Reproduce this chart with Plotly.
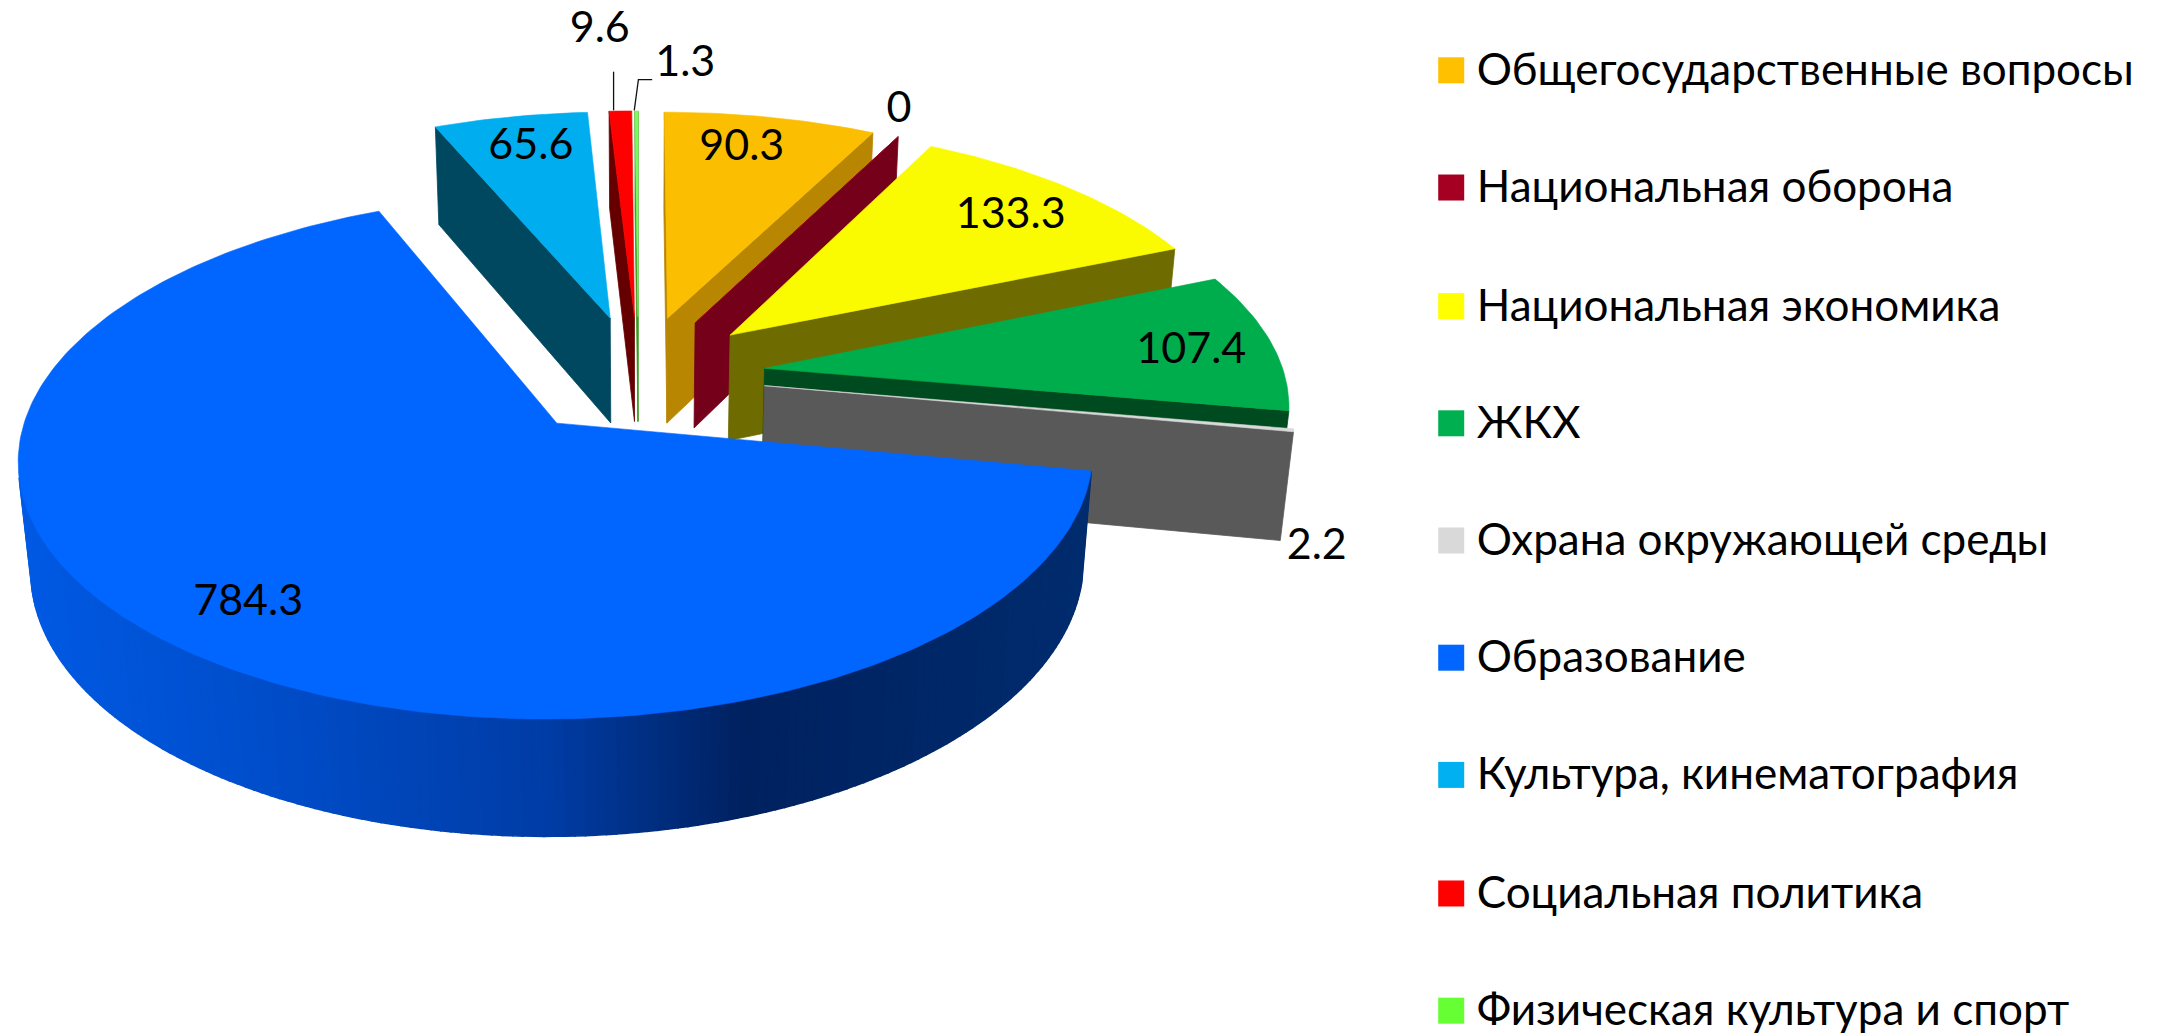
import numpy as np
import plotly.graph_objects as go

categories = ["Общегосударственные вопросы", "Национальная оборона", "Национальная экономика", "ЖКХ",
              "Охрана окружающей среды", "Образование", "Культура, кинематография",
              "Социальная политика", "Физическая культура и спорт"]
values = [90.3, 0, 133.3, 107.4, 2.2, 784.3, 65.6, 9.6, 1.3]
top_colors = ["#FCBE00", "#A50021", "#FAFA00", "#00AD4D", "#D9D9D9", "#0066FF", "#00AEEF", "#FF0000", "#7CFC5A"]
wall_colors = ["#B88600", "#75001A", "#6E6C00", "#004A20", "#595959", "#002C6E", "#004860", "#660000", "#3A9A20"]
legend_colors = ["#FFC000", "#A50021", "#FFFF00", "#00B050", "#D9D9D9", "#0066FF", "#00B0F0", "#FF0000", "#66FF33"]

S = 2162 / 1568
FONT = "Lato, 'Noto Sans', sans-serif"
FS_LABEL = 43
FS_LEGEND = 44
CX, CY = 463 * S, 272 * S
RX, RY, H, K, KZ, PULL = 377 * S, 178 * S, 79 * S, 0.126, 0.02, 0.245
draw_order = [8, 7, 6, 0, 1, 2, 3, 4, 5]
label_xy = [(538, 108.5), (652, 80.5), (733, 157.5), (864, 255.5), (955, 397.5), (180, 438.5), (385, 107.5),
            (435, 23), (497, 47.5)]
legend_y = [51, 136, 222, 307, 392, 477, 562, 648, 733]
grad_x = [14, 280, 550, 745, 1090]
grad_rgb = [(0, 90, 228), (0, 76, 200), (0, 60, 165), (0, 33, 95), (0, 44, 110)]


def project(X, Y, Z):
    w = 1 + K * Y - KZ * Z
    return CX + RX * X / w, CY - (RY * Y + H * Z) / w


def area(pts):
    x, y = np.array(pts).T
    return 0.5 * np.sum(x * np.roll(y, -1) - np.roll(x, -1) * y)


fig = go.Figure()


def poly(pts, color, name=None, lw=0.8):
    x, y = zip(*pts)
    fig.add_trace(go.Scatter(x=list(x) + [x[0]], y=list(y) + [y[0]], mode="lines", fill="toself", fillcolor=color,
                             line=dict(color=color, width=lw), hoverinfo="skip", showlegend=False,
                             name=name or ""))


def wall_shade(x, base, i):
    if i != 5:
        return base
    c = [int(round(np.interp(x, grad_x, [g[k] for g in grad_rgb]))) for k in range(3)]
    return f"rgb({c[0]},{c[1]},{c[2]})"


total = sum(values)
angles = np.concatenate([[0], np.cumsum(values)]) / total * 2 * np.pi

for i in draw_order:
    a0, a1 = angles[i], angles[i + 1]
    mid = (a0 + a1) / 2
    ox, oy = PULL * np.sin(mid), PULL * np.cos(mid)
    n = max(2, int(np.degrees(a1 - a0)) + 2)
    th = np.linspace(a0, a1, n)
    rim = [(ox + np.sin(t), oy + np.cos(t)) for t in th]
    apex = (ox, oy)
    # cut faces and rim wall, keeping only those facing the viewer
    faces = [(apex, rim[0]), (rim[-1], apex)]
    for p, q in faces:
        quad = [project(*p, 0), project(*q, 0), project(*q, -1), project(*p, -1)]
        if area(quad) < -0.01:
            poly(quad, wall_colors[i], categories[i])
    for p, q in zip(rim[:-1], rim[1:]):
        quad = [project(*p, 0), project(*q, 0), project(*q, -1), project(*p, -1)]
        if area(quad) < 0:
            xm = (quad[0][0] + quad[1][0]) / 2
            poly(quad, wall_shade(xm, wall_colors[i], i), categories[i], lw=1.6)
    top = [project(*apex, 0)] + [project(*p, 0) for p in rim]
    poly(top, top_colors[i], categories[i], lw=0.6)

# leader lines
fig.add_trace(go.Scatter(x=[445 * S, 445 * S], y=[52 * S, 80 * S], mode="lines", line=dict(color="#111", width=1.3),
                         hoverinfo="skip", showlegend=False))
fig.add_trace(go.Scatter(x=[473 * S, 463 * S, 460 * S], y=[52 * S + 8, 52 * S + 8, 80 * S], mode="lines",
                         line=dict(color="#111", width=1.3), hoverinfo="skip", showlegend=False))

# data labels
fig.add_trace(go.Scatter(x=[p[0] * S for p in label_xy], y=[p[1] * S for p in label_xy], mode="text",
                         text=[f"{v:g}" for v in values], textposition="middle center",
                         textfont=dict(family=FONT, size=FS_LABEL, color="black"),
                         hoverinfo="skip", showlegend=False))

# legend
for name, col, y in zip(categories, legend_colors, legend_y):
    fig.add_trace(go.Scatter(x=[1052.5 * S], y=[y * S], mode="markers", name=name,
                             marker=dict(symbol="square", size=26, color=col, line=dict(width=0)),
                             hoverinfo="name", showlegend=False))
    fig.add_trace(go.Scatter(x=[1071 * S], y=[(y + 2.5) * S], mode="text", text=[name], textposition="middle right",
                             textfont=dict(family=FONT, size=FS_LEGEND, color="black"),
                             hoverinfo="skip", showlegend=False))

fig.update_layout(width=2162, height=1035, margin=dict(l=0, r=0, t=0, b=0), paper_bgcolor="white",
                  plot_bgcolor="white", showlegend=False,
                  xaxis=dict(range=[0, 2162], visible=False),
                  yaxis=dict(range=[1035, 0], visible=False))
fig.write_html("out.html", config={"displayModeBar": False},
               post_script="document.body.style.margin='0';document.documentElement.style.overflow='hidden';")
